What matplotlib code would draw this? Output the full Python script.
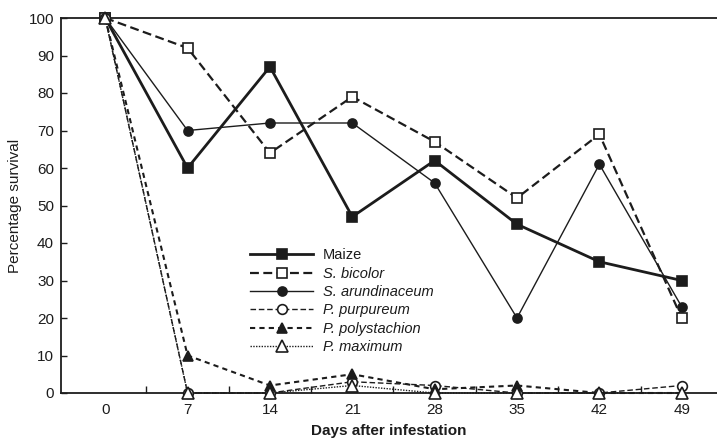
import numpy as np
import matplotlib
matplotlib.use("Agg")
import matplotlib.pyplot as plt

# ====== data ======
days = [0, 7, 14, 21, 28, 35, 42, 49]
maize = [100, 60, 87, 47, 62, 45, 35, 30]
s_bicolor = [100, 92, 64, 79, 67, 52, 69, 20]
s_arundinaceum = [100, 70, 72, 72, 56, 20, 61, 23]
p_purpureum = [100, 0, 0, 3, 2, 0, 0, 2]
p_polystachion = [100, 10, 2, 5, 1, 2, 0, 0]
p_maximum = [100, 0, 0, 2, 0, 0, 0, 0]

INK = "#1c1c1c"

plt.rcParams.update({
    "font.family": ["Liberation Sans", "DejaVu Sans"],
    "font.size": 10,
})

fig = plt.figure(figsize=(7.17, 4.42), dpi=100)
ax = fig.add_axes([61 / 717, 1 - 393 / 442, 1 - 61 / 717, (393 - 18) / 442])

# series: (values, label, linestyle, lw, marker, filled, ms, italic)
series = [
    (maize, "Maize", "-", 2.0, "s", True, 6.5, False),
    (s_bicolor, "S. bicolor", (0, (4, 2)), 1.6, "s", False, 7, True),
    (s_arundinaceum, "S. arundinaceum", "-", 1.0, "o", True, 6.5, True),
    (p_purpureum, "P. purpureum", (0, (4, 2)), 1.0, "o", False, 7, True),
    (p_polystachion, "P. polystachion", (0, (2.5, 2)), 1.5, "^", True, 7, True),
    (p_maximum, "P. maximum", (0, (1, 1)), 1.0, "^", False, 8, True),
]

handles = []
for vals, label, ls, lw, mk, filled, ms, ital in series:
    h, = ax.plot(days, vals, linestyle=ls, linewidth=lw, color=INK,
                 marker=mk, markersize=ms,
                 markerfacecolor=INK if filled else "white",
                 markeredgecolor=INK, markeredgewidth=1.2,
                 label=label, clip_on=False, zorder=3)
    handles.append(h)

ax.set_xlim(-3.76, 52.0)
ax.set_ylim(0, 100)

ax.set_xticks(days)
ax.set_xticklabels([str(d) for d in days])
ax.set_xticks([d + 3.5 for d in days[:-1]], minor=True)
ax.tick_params(axis="x", which="major", length=0, pad=7, labelsize=11, colors=INK)
ax.tick_params(axis="x", which="minor", direction="in", length=5, width=1, color=INK)

ax.set_yticks(np.arange(0, 101, 10))
ax.tick_params(axis="y", direction="in", length=4, width=1, pad=5,
               labelsize=11, colors=INK)

for side in ["left", "bottom", "top"]:
    ax.spines[side].set_linewidth(1.3)
    ax.spines[side].set_color(INK)
ax.spines["right"].set_visible(False)

ax.set_xlabel("Days after infestation", fontsize=11, fontweight="bold",
              color=INK, labelpad=5)
ax.set_ylabel("Percentage survival", fontsize=11, color=INK, labelpad=5)

leg = ax.legend(handles=handles, loc="upper left",
                bbox_to_anchor=(243 / 717, 1 - 241 / 442),
                bbox_transform=fig.transFigure,
                frameon=False, fontsize=10.5, handlelength=4.3,
                handletextpad=0.7, labelspacing=0.3, borderpad=0)
for t, s in zip(leg.get_texts(), series):
    if s[7]:
        t.set_fontstyle("italic")
    t.set_color(INK)

fig.savefig("out.png", dpi=100)
